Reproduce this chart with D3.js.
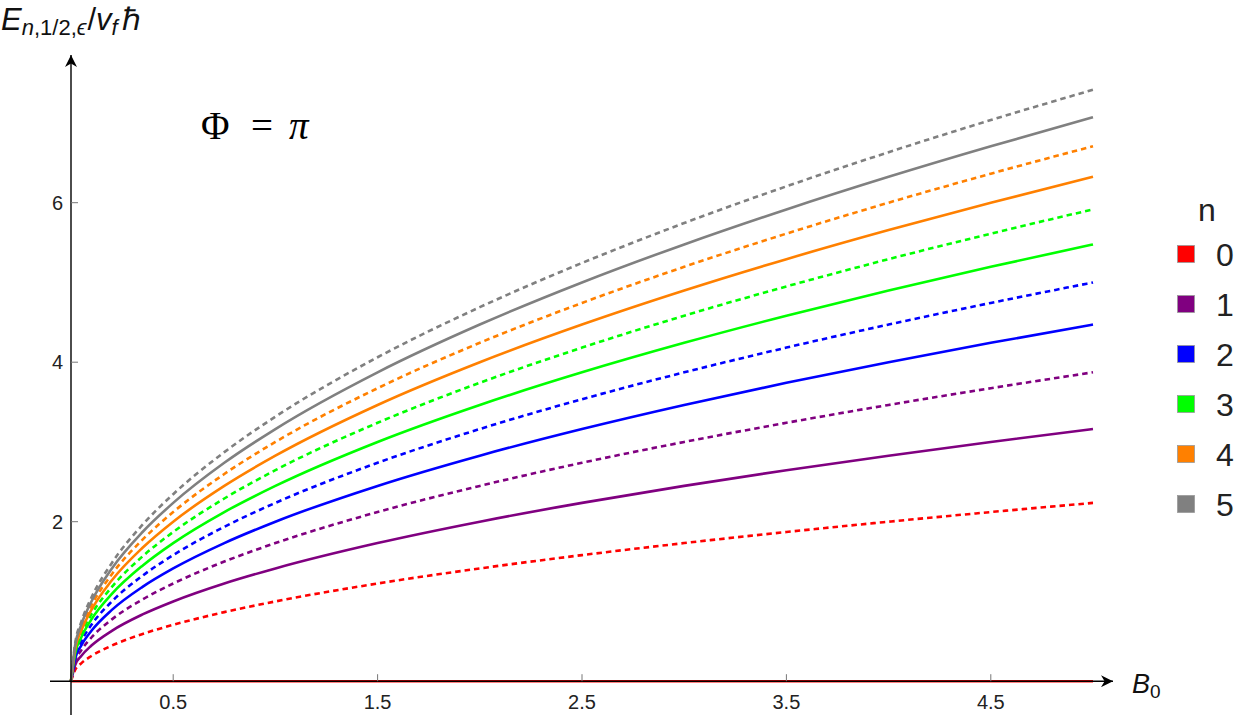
<!DOCTYPE html>
<html lang="en">
<head>
    <meta charset="UTF-8">
    <title>Landau levels, Phi = pi</title>
    <script src="https://d3js.org/d3.v7.min.js"></script>
    <style>
        body { margin: 0; background: #fff; }
    </style>
</head>
<body>
<script>
    // Sample points along B0
    const bValues = [0, 0.02, 0.05, 0.1, 0.2, 0.35, 0.5, 0.75, 1, 1.5, 2, 2.5, 3, 3.5, 4, 4.5, 5];

    // solid curves (per n)
    const solid0 = [0, 0, 0, 0, 0, 0, 0, 0, 0, 0, 0, 0, 0, 0, 0, 0, 0];
    const solid1 = [0, 0.2, 0.316, 0.447, 0.632, 0.837, 1, 1.225, 1.414, 1.732, 2, 2.236, 2.449, 2.646, 2.828, 3, 3.162];
    const solid2 = [0, 0.283, 0.447, 0.632, 0.894, 1.183, 1.414, 1.732, 2, 2.449, 2.828, 3.162, 3.464, 3.742, 4, 4.243, 4.472];
    const solid3 = [0, 0.346, 0.548, 0.775, 1.095, 1.449, 1.732, 2.121, 2.449, 3, 3.464, 3.873, 4.243, 4.583, 4.899, 5.196, 5.477];
    const solid4 = [0, 0.4, 0.632, 0.894, 1.265, 1.673, 2, 2.449, 2.828, 3.464, 4, 4.472, 4.899, 5.292, 5.657, 6, 6.325];
    const solid5 = [0, 0.447, 0.707, 1, 1.414, 1.871, 2.236, 2.739, 3.162, 3.873, 4.472, 5, 5.477, 5.916, 6.325, 6.708, 7.071];

    // dotted curves (per n)
    const dotted0 = [0, 0.141, 0.224, 0.316, 0.447, 0.592, 0.707, 0.866, 1, 1.225, 1.414, 1.581, 1.732, 1.871, 2, 2.121, 2.236];
    const dotted1 = [0, 0.245, 0.387, 0.548, 0.775, 1.025, 1.225, 1.5, 1.732, 2.121, 2.449, 2.739, 3, 3.24, 3.464, 3.674, 3.873];
    const dotted2 = [0, 0.316, 0.5, 0.707, 1, 1.323, 1.581, 1.936, 2.236, 2.739, 3.162, 3.536, 3.873, 4.183, 4.472, 4.743, 5];
    const dotted3 = [0, 0.374, 0.592, 0.837, 1.183, 1.565, 1.871, 2.291, 2.646, 3.24, 3.742, 4.183, 4.583, 4.95, 5.292, 5.612, 5.916];
    const dotted4 = [0, 0.424, 0.671, 0.949, 1.342, 1.775, 2.121, 2.598, 3, 3.674, 4.243, 4.743, 5.196, 5.612, 6, 6.364, 6.708];
    const dotted5 = [0, 0.469, 0.742, 1.049, 1.483, 1.962, 2.345, 2.872, 3.317, 4.062, 4.69, 5.244, 5.745, 6.205, 6.633, 7.036, 7.416];

    const levels = ["0", "1", "2", "3", "4", "5"];
    const colors = ["#ff0000", "#800080", "#0000ff", "#00ff00", "#ff8000", "#808080"];
    const xTicks = [0.5, 1.5, 2.5, 3.5, 4.5];
    const yTicks = [2, 4, 6];

    const solids = [solid0, solid1, solid2, solid3, solid4, solid5];
    const dotteds = [dotted0, dotted1, dotted2, dotted3, dotted4, dotted5];

    const svgWidth = 1250, svgHeight = 723;
    const svg = d3.select("body").append("svg")
        .attr("width", svgWidth)
        .attr("height", svgHeight);

    const sans = "'Liberation Sans', Arial, sans-serif";

    // scales: B0 = 0 sits on the y axis, E = 0 on the x axis
    const x = d3.scaleLinear().domain([0, 5]).range([71, 1093]);
    const y = d3.scaleLinear().domain([0, 6]).range([681.2, 202.7]);

    svg.append("defs").append("marker")
        .attr("id", "arrow")
        .attr("viewBox", "0 0 10 10")
        .attr("refX", 10).attr("refY", 5)
        .attr("markerWidth", 18).attr("markerHeight", 12)
        .attr("markerUnits", "userSpaceOnUse")
        .attr("orient", "auto")
        .append("path")
        .attr("d", "M0,0 L10,5 L0,10 L3,5 Z")
        .attr("fill", "#000");

    const line = d3.line()
        .x((d, i) => x(bValues[i]))
        .y(d => y(d))
        .curve(d3.curveMonotoneX);

    const curves = [];
    levels.forEach((n, i) => {
        curves.push({ n, vals: solids[i], dashed: false, color: colors[i] });
        curves.push({ n, vals: dotteds[i], dashed: true, color: colors[i] });
    });

    svg.append("g").selectAll("path")
        .data(curves)
        .enter().append("path")
        .attr("d", d => line(d.vals))
        .attr("fill", "none")
        .attr("stroke", d => d.color)
        .attr("stroke-width", 2.6)
        .attr("stroke-dasharray", d => d.dashed ? "5.5,4" : null);

    // axes (drawn on top, Mathematica style)
    svg.append("line")
        .attr("x1", 50).attr("x2", 1113)
        .attr("y1", y(0)).attr("y2", y(0))
        .attr("stroke", "#000").attr("stroke-width", 1.4)
        .attr("marker-end", "url(#arrow)");
    svg.append("line")
        .attr("x1", x(0)).attr("x2", x(0))
        .attr("y1", 715).attr("y2", 55)
        .attr("stroke", "#000").attr("stroke-width", 1.4)
        .attr("marker-end", "url(#arrow)");

    // x ticks
    const xt = svg.append("g").selectAll("g").data(xTicks).enter().append("g");
    xt.append("line")
        .attr("x1", d => x(d)).attr("x2", d => x(d))
        .attr("y1", y(0)).attr("y2", y(0) - 7)
        .attr("stroke", "#777").attr("stroke-width", 1);
    xt.append("text")
        .attr("x", d => x(d)).attr("y", 709)
        .attr("text-anchor", "middle")
        .attr("font-family", sans).attr("font-size", 20).attr("fill", "#222")
        .text(d => d);

    // y ticks
    const yt = svg.append("g").selectAll("g").data(yTicks).enter().append("g");
    yt.append("line")
        .attr("x1", x(0)).attr("x2", x(0) + 7)
        .attr("y1", d => y(d)).attr("y2", d => y(d))
        .attr("stroke", "#777").attr("stroke-width", 1);
    yt.append("text")
        .attr("x", 63).attr("y", d => y(d) + 7)
        .attr("text-anchor", "end")
        .attr("font-family", sans).attr("font-size", 20).attr("fill", "#222")
        .text(d => d);

    // axis labels
    const yl = svg.append("text")
        .attr("x", 1).attr("y", 30)
        .attr("font-family", sans).attr("font-size", 31).attr("fill", "#111");
    yl.append("tspan").attr("font-style", "italic").text("E");
    yl.append("tspan").attr("font-size", 22).attr("dy", 5).attr("font-style", "italic").text("n");
    yl.append("tspan").attr("font-size", 22).text(",1/2,");
    yl.append("tspan").attr("font-size", 22).attr("font-style", "italic").text("\u03F5");
    yl.append("tspan").attr("dy", -5).attr("dx", 1).text("/");
    yl.append("tspan").attr("font-style", "italic").text("v");
    yl.append("tspan").attr("font-size", 22).attr("dy", 5).attr("font-style", "italic").text("f");
    yl.append("tspan").attr("dy", -5).attr("dx", 4).text("\u210F");

    const xl = svg.append("text")
        .attr("x", 1132).attr("y", 693)
        .attr("font-family", sans).attr("font-size", 27).attr("fill", "#111");
    xl.append("tspan").attr("font-style", "italic").text("B");
    xl.append("tspan").attr("font-size", 19).attr("dy", 5).text("0");

    // Phi = pi annotation
    const serif = "'Liberation Serif', 'Times New Roman', serif";
    const ann = svg.append("g")
        .attr("font-family", serif).attr("font-size", 39).attr("fill", "#000");
    ann.append("text").attr("x", 201).attr("y", 139).text("\u03A6");
    ann.append("text").attr("x", 251).attr("y", 139).text("=");
    ann.append("text").attr("x", 289).attr("y", 139).attr("font-style", "italic").text("\u03C0");

    // legend
    const legend = svg.append("g");
    legend.append("text")
        .attr("x", 1198).attr("y", 221)
        .attr("font-family", sans).attr("font-size", 32).attr("fill", "#222")
        .text("n");
    const rows = legend.selectAll("g.row").data(levels).enter().append("g")
        .attr("class", "row")
        .attr("transform", (d, i) => `translate(0, ${254 + i * 50})`);
    rows.append("rect")
        .attr("x", 1177.5).attr("y", -8.5)
        .attr("width", 17).attr("height", 17)
        .attr("fill", (d, i) => colors[i])
        .attr("stroke", "#999").attr("stroke-width", 0.8);
    rows.append("text")
        .attr("x", 1216).attr("y", 12)
        .attr("font-family", sans).attr("font-size", 32).attr("fill", "#222")
        .text(d => d);
</script>
</body>
</html>
